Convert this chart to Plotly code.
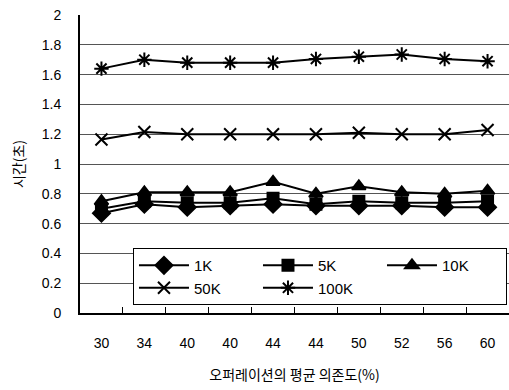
import plotly.graph_objects as go

categories = ["30", "34", "40", "40", "44", "44", "50", "52", "56", "60"]
s_1k = [0.67, 0.73, 0.71, 0.72, 0.73, 0.72, 0.72, 0.72, 0.71, 0.71]
s_5k = [0.70, 0.75, 0.74, 0.74, 0.77, 0.73, 0.75, 0.74, 0.74, 0.75]
s_10k = [0.75, 0.81, 0.81, 0.81, 0.88, 0.80, 0.85, 0.81, 0.80, 0.82]
s_50k = [1.165, 1.215, 1.20, 1.20, 1.20, 1.20, 1.21, 1.20, 1.20, 1.228]
s_100k = [1.64, 1.70, 1.68, 1.68, 1.68, 1.705, 1.72, 1.735, 1.705, 1.69]
names = ["1K", "5K", "10K", "50K", "100K"]

xpos = list(range(len(categories)))
series = [s_1k, s_5k, s_10k, s_50k, s_100k]
symbols = ["diamond", "square", "triangle-up", "x-thin-open", "asterisk-open"]
sizes = [13, 11, 12, 12, 12]

fig = go.Figure()
for nm, ys, sym, sz in zip(names, series, symbols, sizes):
    fig.add_trace(go.Scatter(
        x=xpos, y=ys, name=nm, mode="lines+markers",
        line=dict(color="black", width=2),
        marker=dict(symbol=sym, size=sz, color="black",
                    line=dict(color="black", width=2)),
    ))

font = dict(family="Liberation Sans, Arial, sans-serif", size=14, color="black")
fig.update_layout(
    width=509, height=390,
    margin=dict(l=80, r=0, t=15, b=77),
    paper_bgcolor="white", plot_bgcolor="white",
    font=font,
    showlegend=True,
    legend=dict(
        orientation="h", x=0.1235, y=0.218, xanchor="left", yanchor="top",
        bgcolor="white", bordercolor="black", borderwidth=1,
        entrywidth=59, entrywidthmode="pixels", itemwidth=50,
        font=dict(family="Liberation Sans, Arial, sans-serif", size=15),
        traceorder="normal",
    ),
    xaxis=dict(
        range=[-0.5, 9.5], tickmode="array", tickvals=xpos, ticktext=categories,
        ticks="", showgrid=False, zeroline=False,
        showline=True, linecolor="black", linewidth=2,
        ticklabelstandoff=16,
        minor=dict(tickmode="array", tickvals=[i + 0.5 for i in xpos[:-1]],
                   ticks="inside", ticklen=6, tickcolor="black", tickwidth=1,
                   showgrid=False),
        title=dict(text="오퍼레이션의 평균 의존도(%)", standoff=20,
                   font=dict(family="Noto Sans CJK KR", size=14)),
    ),
    yaxis=dict(
        range=[0, 2], dtick=0.2, tickformat="~g",
        showgrid=True, gridcolor="#555", gridwidth=1,
        zeroline=False, showline=True, linecolor="black", linewidth=2,
        ticks="", ticklabelstandoff=14,
        title=dict(text="시간(초)", standoff=14,
                   font=dict(family="Noto Sans CJK KR", size=14)),
    ),
)

fig.write_html("out.html", config={"displayModeBar": False},
               post_script="document.body.style.margin='0';")
